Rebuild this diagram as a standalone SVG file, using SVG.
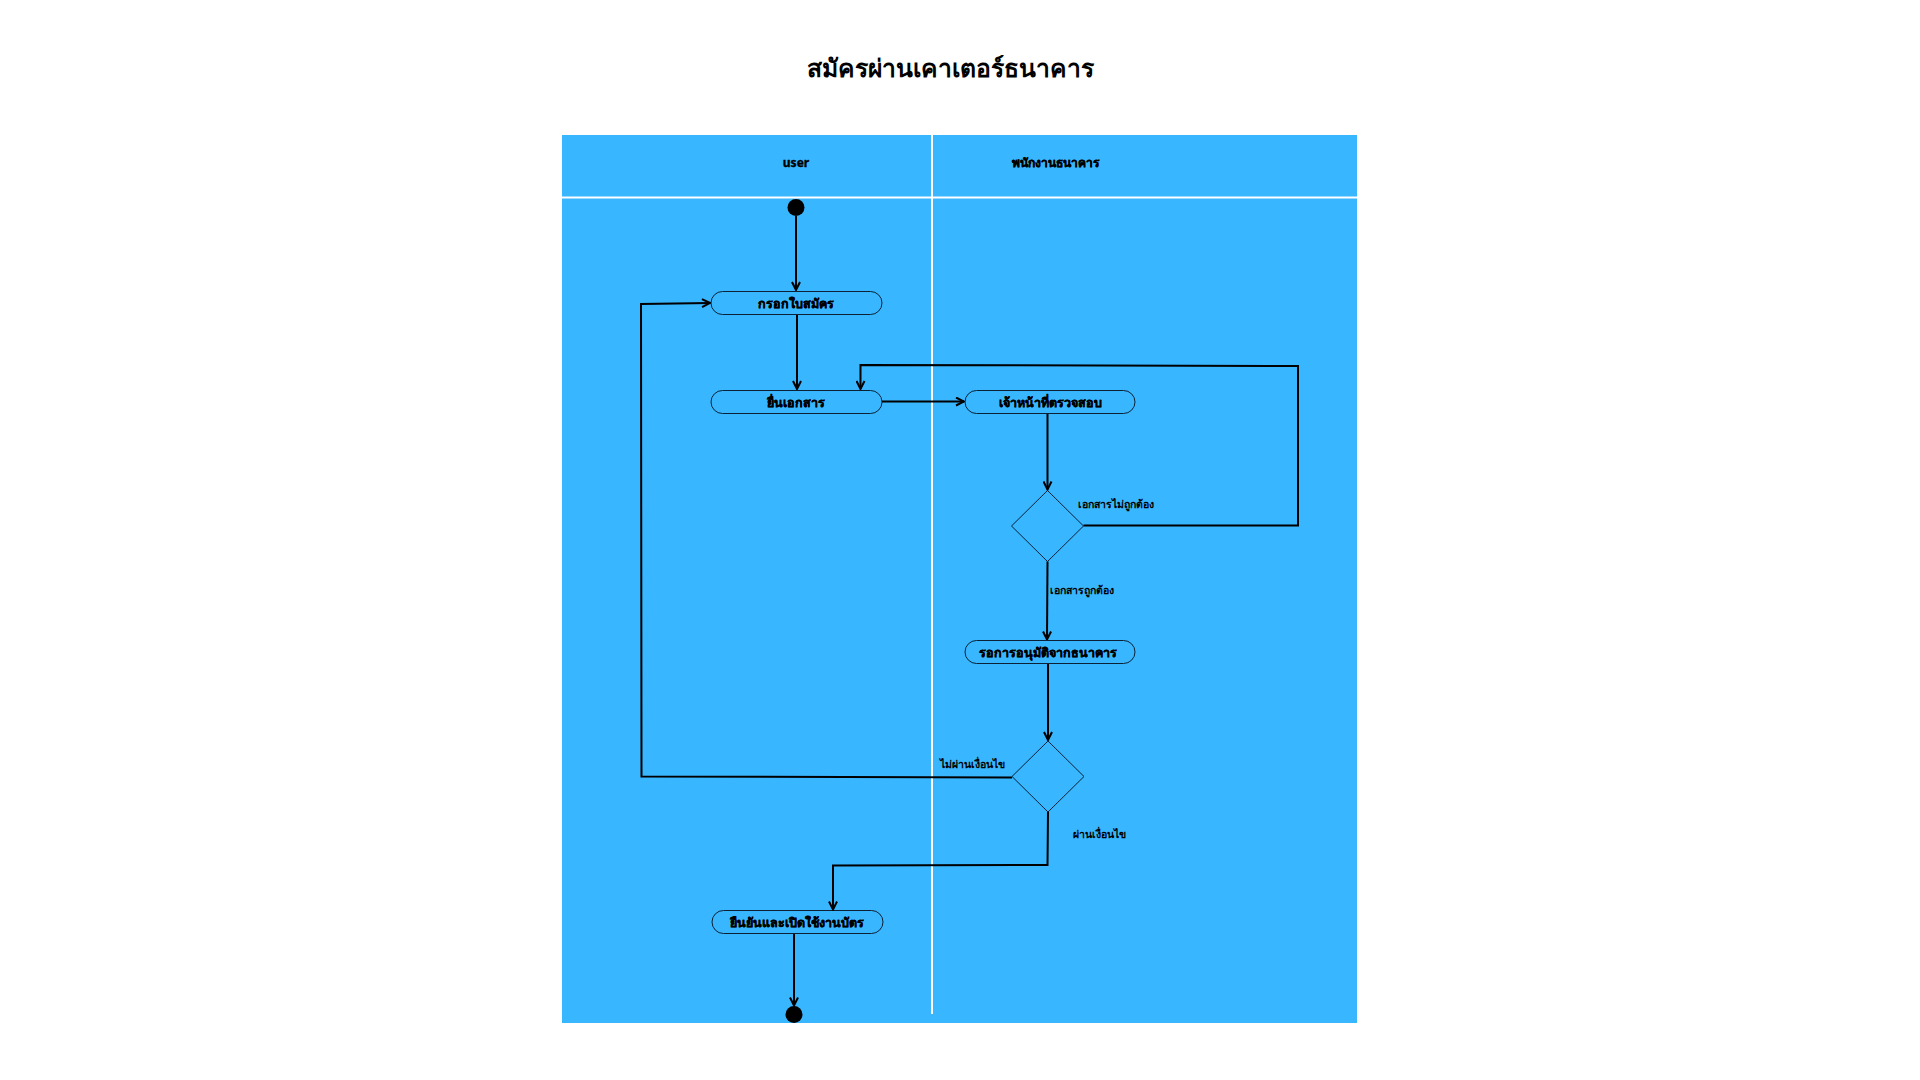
<svg xmlns="http://www.w3.org/2000/svg" width="1920" height="1080" viewBox="0 0 1920 1080">
<defs>
<marker id="arr" viewBox="0 0 10 10" refX="9" refY="5" markerWidth="10" markerHeight="10" markerUnits="userSpaceOnUse" orient="auto">
<path d="M1,1 L9,5 L1,9" fill="none" stroke="#000" stroke-width="2"/>
</marker>
<style>
.lane{fill:#38b6ff}
.sep{stroke:#fff;stroke-width:2;fill:none}
.node{fill:#38b6ff;stroke:#0b2236;stroke-width:1}
.dia{fill:#38b6ff;stroke:#0b2236;stroke-width:1}
.nt{font-family:"Noto Sans","DejaVu Sans",sans-serif;font-weight:bold;font-size:12.5px;fill:#000;stroke:#000;stroke-width:0.35;text-anchor:middle}
.hd{font-family:"Noto Sans","DejaVu Sans",sans-serif;font-weight:bold;font-size:12px;fill:#000;stroke:#000;stroke-width:0.35;text-anchor:middle}
.el{font-family:"Liberation Serif","Noto Sans",serif;font-weight:bold;font-size:10.5px;fill:#000}
.title{font-family:"Noto Sans","DejaVu Sans",sans-serif;font-weight:bold;font-size:24.7px;fill:#000;text-anchor:middle}
.c{fill:none;stroke:#000;stroke-width:2;marker-end:url(#arr)}
</style>
</defs>
<rect width="1920" height="1080" fill="#fff"/>
<text class="title" x="950" y="77">สมัครผ่านเคาเตอร์ธนาคาร</text>
<g id="lanes">
<rect class="lane" x="562" y="135" width="795" height="888"/>
<line class="sep" x1="562" y1="197.5" x2="1357" y2="197.5"/>
<line class="sep" x1="932" y1="135" x2="932" y2="1014"/>
<text class="hd" x="796" y="167">user</text>
<text class="hd" x="1055" y="167">พนักงานธนาคาร</text>
</g>
<g id="start"><circle cx="796" cy="207.5" r="8.5" fill="#000"/></g>
<g id="n1"><rect class="node" x="711" y="291.5" width="171" height="23" rx="11.5"/><text class="nt" x="796" y="307.5">กรอกใบสมัคร</text></g>
<g id="n2"><rect class="node" x="711" y="390.5" width="171" height="23" rx="11.5"/><text class="nt" x="796" y="406.5">ยื่นเอกสาร</text></g>
<g id="n3"><rect class="node" x="965" y="390.5" width="170" height="23" rx="11.5"/><text class="nt" x="1050" y="406.5">เจ้าหน้าที่ตรวจสอบ</text></g>
<g id="d1"><polygon class="dia" points="1047.5,490.5 1083.5,526 1047.5,561.5 1011.5,526"/></g>
<g id="n4"><rect class="node" x="965" y="640.5" width="170" height="23" rx="11.5"/><text class="nt" x="1048" y="656.5">รอการอนุมัติจากธนาคาร</text></g>
<g id="d2"><polygon class="dia" points="1048,741 1084,776.5 1048,812 1012,776.5"/></g>
<g id="n5"><rect class="node" x="712" y="910.5" width="171" height="23" rx="11.5"/><text class="nt" x="797" y="926.5">ยืนยันและเปิดใช้งานบัตร</text></g>
<g id="end"><circle cx="794" cy="1014.5" r="8.5" fill="#000"/></g>
<g id="connectors">
<path class="c" d="M796,216 L796,290"/>
<path class="c" d="M797,315 L797,389"/>
<path class="c" d="M882,401.5 L964,401.5"/>
<path class="c" d="M1047.5,414 L1047.5,489.5"/>
<path class="c" d="M1083.5,525.5 L1298,525.5 L1298,366 L860.5,365 L860.5,389"/>
<path class="c" d="M1047.5,561.5 L1047,639.5"/>
<path class="c" d="M1048,664 L1048,740"/>
<path class="c" d="M1012,777.5 L641.5,776.5 L641,304 L710,303"/>
<path class="c" d="M1048,812 L1047.5,865 L833,865.5 L833,909.5"/>
<path class="c" d="M794,934 L794,1005.5"/>
<text class="el" x="1078" y="508">เอกสารไม่ถูกต้อง</text>
<text class="el" x="1050" y="594">เอกสารถูกต้อง</text>
<text class="el" x="940" y="768">ไม่ผ่านเงื่อนไข</text>
<text class="el" x="1073" y="838">ผ่านเงื่อนไข</text>
</g>
</svg>
